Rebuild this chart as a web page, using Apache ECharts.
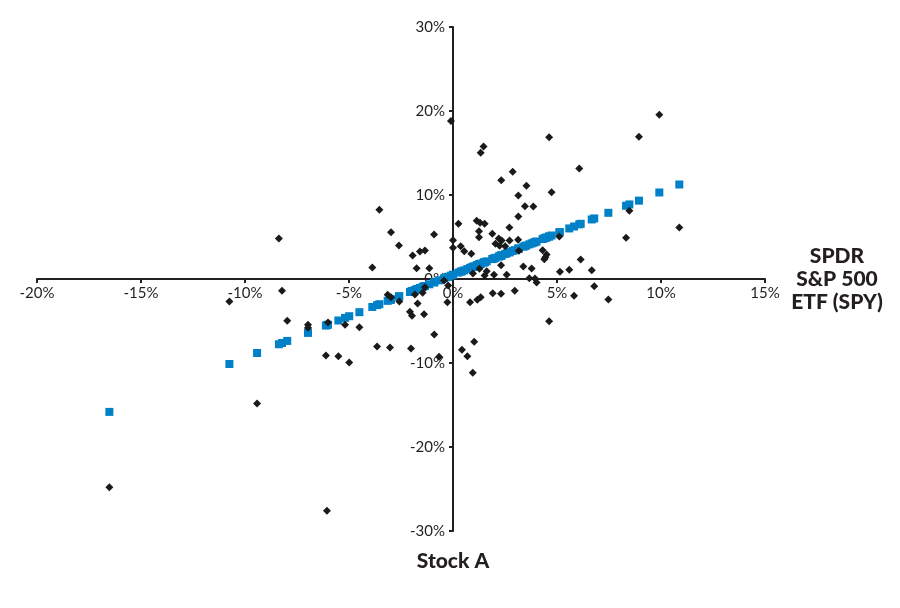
<!DOCTYPE html>
<html>
<head>
<meta charset="utf-8">
<title>Stock A vs SPDR S&amp;P 500 ETF (SPY)</title>
<script src="https://cdn.jsdelivr.net/npm/echarts@6/dist/echarts.min.js"></script>
<style>
  html, body { margin: 0; padding: 0; background: #fff; }
  #chart { width: 900px; height: 608px; }
</style>
</head>
<body>
<div id="chart"></div>
<script>
// returns in %, SPY on x, Stock A on y (same order in all three lists)
var spyReturns = [
  -8.37, -3.54, -2.98, -2.60, -1.94, -1.59, -1.35, -0.91, -3.88, -1.75,
  -1.14, -0.10, 9.92, 8.94, 4.62, 1.47, 1.33, 6.07, 2.87, 2.32,
  3.53, 4.74, 3.14, 3.46, 3.86, 8.48, 3.14, 1.14, 1.30, 1.52,
  0.26, 2.71, 10.88, 1.25, 1.89, 1.25, 5.11, 8.32, 0.00, 2.20,
  2.72, 3.13, 2.04, 2.34, 2.51, 2.24, 0.37, 0.00, 0.54, 0.88,
  3.17, 4.31, 4.50, 4.44, 4.39, 6.14, 2.31, 3.38, 3.78, 5.14,
  5.59, 6.67, 0.96, 1.27, 1.62, 1.52, 1.97, 2.58, 3.67, 3.94,
  -0.43, -0.23, -0.27, 4.02, 0.82, 1.17, 1.33, 1.91, 2.31, 2.97,
  5.82, 6.79, 7.47, 4.62, 1.02, 0.43, 0.69, 0.95, -10.75, -8.22,
  -7.97, -6.97, -6.97, -6.01, -5.19, -4.50, -6.11, -5.51, -4.99, -3.65,
  -3.03, -2.02, -0.67, -0.90, -3.14, -2.98, -2.58, -2.07, -1.97, -1.39,
  -1.70, -1.83, -1.46, -1.35, -16.52, -9.42, -6.06
];

// actual Stock A returns (black diamonds)
var stockReturns = [
  4.82, 8.24, 5.57, 3.99, 2.80, 3.27, 3.39, 5.30, 1.37, 1.29,
  1.29, 18.80, 19.55, 16.93, 16.88, 15.77, 15.02, 13.15, 12.76, 11.76,
  11.09, 10.34, 9.94, 8.67, 8.63, 8.12, 7.44, 6.93, 6.69, 6.57,
  6.57, 6.13, 6.13, 5.69, 5.38, 4.98, 5.06, 4.90, 4.62, 4.82,
  4.58, 4.66, 4.19, 4.58, 3.91, 3.95, 3.91, 3.71, 3.31, 3.00,
  3.36, 3.43, 2.92, 2.60, 2.36, 2.32, 1.65, 1.49, 1.25, 0.86,
  1.10, 1.05, 0.65, 1.21, 0.93, 0.42, 0.50, 0.50, 0.10, 0.06,
  -0.18, -0.77, -2.76, -0.42, -2.76, -2.48, -2.17, -1.69, -1.76, -1.40,
  -2.00, -0.86, -2.44, -5.02, -7.48, -8.43, -9.19, -11.17, -2.68, -1.41,
  -4.98, -5.46, -5.81, -5.18, -5.46, -5.73, -9.10, -9.19, -9.94, -8.04,
  -8.15, -8.27, -9.27, -6.61, -1.88, -2.17, -2.68, -3.90, -4.38, -4.19,
  -2.92, -1.85, -1.64, -0.98, -24.80, -14.82, -27.60
];

// fitted Stock A returns (blue squares)
var fittedReturns = [
  -7.77, -3.00, -2.44, -2.07, -1.42, -1.07, -0.83, -0.40, -3.33, -1.23,
  -0.63, 0.40, 10.30, 9.33, 5.06, 1.95, 1.81, 6.50, 3.34, 2.79,
  3.99, 5.18, 3.60, 3.92, 4.31, 8.88, 3.60, 1.63, 1.78, 2.00,
  0.76, 3.18, 11.25, 1.74, 2.37, 1.74, 5.55, 8.72, 0.50, 2.67,
  3.19, 3.59, 2.52, 2.81, 2.98, 2.71, 0.87, 0.50, 1.03, 1.37,
  3.63, 4.76, 4.95, 4.89, 4.84, 6.57, 2.78, 3.84, 4.23, 5.58,
  6.02, 7.09, 1.45, 1.75, 2.10, 2.00, 2.45, 3.05, 4.13, 4.39,
  0.08, 0.27, 0.23, 4.47, 1.31, 1.66, 1.81, 2.39, 2.78, 3.43,
  6.25, 7.21, 7.88, 5.06, 1.51, 0.92, 1.18, 1.44, -10.12, -7.62,
  -7.37, -6.39, -6.39, -5.44, -4.63, -3.95, -5.54, -4.94, -4.43, -3.11,
  -2.49, -1.50, -0.16, -0.39, -2.60, -2.44, -2.05, -1.55, -1.45, -0.87,
  -1.18, -1.31, -0.94, -0.83, -15.82, -8.81, -5.49
];

var xName = 'SPDR\nS&P 500\nETF (SPY)';
var yName = 'Stock A';

var actual = spyReturns.map(function (x, i) { return [x, stockReturns[i]]; });
var fitted = spyReturns.map(function (x, i) { return [x, fittedReturns[i]]; });

var ink = '#231f20';
// grid is fixed in px: 728 wide, 504 high; axes are pulled onto the zero lines with offset
var chart = echarts.init(document.getElementById('chart'));
var option = {
  animation: false,
  textStyle: { fontFamily: 'Lato, "Noto Sans", sans-serif' },
  grid: { left: 37, right: 135, top: 27, bottom: 77 },
  xAxis: {
    type: 'value',
    position: 'bottom',
    offset: -252,
    min: -20,
    max: 15,
    interval: 5,
    name: xName,
    nameLocation: 'end',
    nameGap: 72,
    nameTextStyle: {
      fontSize: 21,
      fontWeight: 900,
      color: ink,
      align: 'center',
      lineHeight: 23,
      padding: [30, 0, 0, 0]
    },
    axisLine: { onZero: false, lineStyle: { color: ink, width: 2 } },
    axisTick: { length: 4, lineStyle: { color: ink, width: 2 } },
    axisLabel: {
      formatter: '{value}%',
      color: ink,
      fontSize: 15,
      margin: 7,
      showMinLabel: true,
      showMaxLabel: true
    },
    splitLine: { show: false }
  },
  yAxis: {
    type: 'value',
    position: 'left',
    offset: -416,
    min: -30,
    max: 30,
    interval: 10,
    name: yName,
    nameLocation: 'start',
    nameGap: 20,
    nameTextStyle: { fontSize: 21, fontWeight: 900, color: ink },
    axisLine: { onZero: false, lineStyle: { color: ink, width: 2 } },
    axisTick: { length: 4, lineStyle: { color: ink, width: 2 } },
    axisLabel: {
      formatter: '{value}%',
      color: ink,
      fontSize: 15,
      margin: 8,
      showMinLabel: true,
      showMaxLabel: true
    },
    splitLine: { show: false }
  },
  series: [{
    name: 'Fitted',
    type: 'scatter',
    symbol: 'rect',
    symbolSize: 8,
    itemStyle: { color: '#0080c6', opacity: 1 },
    data: fitted
  }, {
    name: 'Actual',
    type: 'scatter',
    symbol: 'diamond',
    symbolSize: 8,
    itemStyle: { color: '#1a1a1a', opacity: 1 },
    data: actual
  }]
};
chart.setOption(option);
</script>
</body>
</html>
